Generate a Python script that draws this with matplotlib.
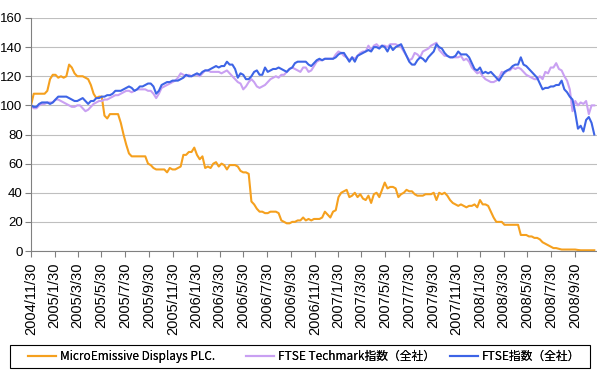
import pandas as pd
import matplotlib
matplotlib.use("Agg")
from matplotlib import pyplot as plt

startDate = "2004-11-30"

microEmissive = [
    100, 108, 108, 108, 108, 108, 110, 118, 121, 121, 119, 120, 119, 120, 128, 126, 122, 120, 120, 120,
    119, 118, 114, 108, 105, 106, 106, 93, 91, 94, 94, 94, 94, 88, 80, 73, 67, 65, 65, 65,
    65, 65, 65, 60, 59, 57, 56, 56, 56, 56, 54, 57, 56, 56, 57, 58, 66, 66, 68, 68,
    71, 66, 63, 65, 57, 58, 57, 60, 61, 58, 60, 59, 56, 59, 59, 59, 58, 55, 54, 54,
    53, 34, 32, 29, 27, 27, 26, 26, 27, 27, 27, 26, 21, 20, 19, 19, 20, 20, 21, 21,
    23, 21, 22, 21, 22, 22, 22, 23, 27, 25, 23, 27, 28, 37, 40, 41, 42, 37, 38, 40,
    37, 39, 36, 35, 38, 33, 39, 40, 37, 42, 47, 43, 44, 44, 43, 37, 39, 40, 42, 41,
    41, 39, 38, 38, 38, 39, 39, 39, 40, 35, 40, 39, 40, 38, 35, 33, 32, 31, 32, 31,
    30, 31, 31, 32, 30, 35, 32, 32, 31, 27, 23, 20, 20, 20, 18, 18, 18, 18, 18, 18,
    11, 11, 11, 10, 10, 9, 9, 8, 6, 5, 4, 3, 2, 2, 1.5, 1, 1, 1, 1, 1,
    1, 0.7, 0.5, 0.5, 0.5, 0.5, 0.5, 0.5,
]

ftseTechmark = [
    100, 98, 98, 100, 101, 101, 102, 102, 102, 104, 104, 103, 102, 101, 100, 99, 99, 100, 100, 98,
    96, 97, 99, 101, 102, 103, 103, 104, 104, 105, 106, 107, 107, 108, 109, 110, 110, 109, 110, 111,
    111, 111, 111, 110, 110, 108, 105, 108, 112, 113, 114, 115, 116, 117, 119, 122, 121, 120, 121, 120,
    121, 121, 120, 122, 124, 124, 123, 123, 123, 123, 122, 123, 124, 122, 120, 118, 116, 115, 111, 113,
    116, 118, 116, 113, 112, 113, 114, 116, 118, 119, 120, 119, 121, 121, 123, 125, 126, 125, 124, 123,
    126, 126, 123, 124, 127, 130, 131, 131, 132, 132, 132, 132, 135, 137, 136, 134, 133, 131, 133, 132,
    134, 136, 137, 137, 141, 138, 141, 142, 140, 141, 141, 140, 142, 142, 142, 141, 140, 137, 134, 131,
    132, 136, 135, 133, 137, 138, 139, 141, 142, 143, 138, 136, 134, 134, 133, 133, 133, 133, 134, 131,
    132, 130, 126, 124, 122, 123, 120, 118, 117, 116, 116, 117, 119, 123, 122, 124, 124, 126, 125, 126,
    125, 123, 121, 120, 119, 118, 118, 120, 118, 123, 122, 126, 126, 129, 125, 124, 120, 117, 111, 96,
    103, 100, 102, 101, 103, 94, 100, 100,
]

ftse = [
    100, 99, 99, 101, 102, 102, 102, 101, 102, 104, 106, 106, 106, 106, 105, 104, 103, 103, 104, 105,
    103, 101, 103, 103, 105, 105, 106, 106, 107, 107, 108, 110, 110, 110, 111, 112, 113, 112, 110, 111,
    113, 113, 114, 115, 115, 113, 108, 110, 114, 115, 116, 116, 117, 117, 117, 118, 119, 121, 120, 120,
    121, 122, 121, 123, 124, 124, 125, 126, 127, 126, 127, 127, 130, 128, 128, 125, 119, 122, 121, 118,
    118, 120, 123, 124, 121, 121, 126, 123, 124, 125, 125, 126, 125, 124, 123, 125, 126, 129, 130, 130,
    130, 130, 128, 127, 129, 131, 132, 131, 132, 132, 132, 132, 133, 135, 136, 136, 133, 130, 133, 130,
    134, 135, 136, 137, 138, 137, 140, 140, 139, 141, 140, 137, 141, 138, 140, 141, 142, 138, 134, 130,
    128, 128, 131, 133, 132, 130, 133, 135, 137, 142, 140, 139, 136, 134, 133, 133, 134, 137, 135, 135,
    135, 133, 129, 125, 124, 126, 122, 123, 122, 123, 121, 119, 117, 120, 123, 124, 125, 127, 128, 128,
    133, 128, 127, 125, 123, 121, 119, 115, 111, 112, 112, 113, 113, 114, 114, 117, 111, 109, 106, 104,
    95, 84, 86, 82, 90, 92, 88, 80,
]

tickLabels = [
    "2004/11/30", "2005/1/30", "2005/3/30", "2005/5/30", "2005/7/30", "2005/9/30",
    "2005/11/30", "2006/1/30", "2006/3/30", "2006/5/30", "2006/7/30", "2006/9/30",
    "2006/11/30", "2007/1/30", "2007/3/30", "2007/5/30", "2007/7/30", "2007/9/30",
    "2007/11/30", "2008/1/30", "2008/3/30", "2008/5/30", "2008/7/30", "2008/9/30",
]

seriesNames = ["MicroEmissive Displays PLC.", "FTSE Techmark指数（全社）", "FTSE指数（全社）"]
seriesColors = ["#F5A01E", "#C9A0F2", "#3D64E6"]

dates = pd.date_range(start=startDate, periods=len(ftse), freq="7D")
tickDates = pd.to_datetime(tickLabels, format="%Y/%m/%d")

fig = plt.figure(figsize=(5.97, 3.81), dpi=100)
ax = fig.add_axes([31 / 597, 1 - 251 / 381, 566 / 597, 233 / 381])

lines = []
for values, name, color in zip([microEmissive, ftseTechmark, ftse], seriesNames, seriesColors):
    line, = ax.plot(dates, values, color=color, linewidth=1.5, label=name)
    lines.append(line)

ax.set_ylim(0, 160)
ax.set_yticks(range(0, 161, 20))
ax.set_xlim(dates[0], dates[0] + pd.Timedelta(weeks=208))
ax.set_xticks(tickDates)
ax.set_xticklabels(tickLabels, rotation=90, fontsize=10.5, family="Liberation Sans")
for label in ax.get_yticklabels():
    label.set_family("Liberation Sans")
    label.set_fontsize(9.5)

ax.grid(axis="y", color="#BFBFBF", linewidth=0.8)
ax.set_axisbelow(True)
for side in ["top", "right"]:
    ax.spines[side].set_visible(False)
ax.spines["left"].set_color("#808080")
ax.spines["bottom"].set_color("#808080")
ax.tick_params(axis="both", direction="out", length=4, color="#808080", pad=2)
ax.tick_params(axis="x", pad=4)

# legend box drawn separately, one small legend per entry inside it
frame = plt.Rectangle((10 / 597, 1 - 368 / 381), 580 / 597, 23 / 381, transform=fig.transFigure,
                      fill=False, edgecolor="black", linewidth=0.8)
fig.patches.append(frame)
legendLeft = [28, 246, 450]
for line, left in zip(lines, legendLeft):
    leg = fig.legend(
        handles=[line], loc="center left", bbox_to_anchor=(left / 597, 1 - 356.5 / 381),
        frameon=False, handlelength=2.4, handletextpad=0.3, borderpad=0, borderaxespad=0,
        prop={"family": ["Noto Sans CJK JP", "DejaVu Sans"], "size": 8.5},
    )
    fig.add_artist(leg)

fig.savefig("out.png", dpi=100)
